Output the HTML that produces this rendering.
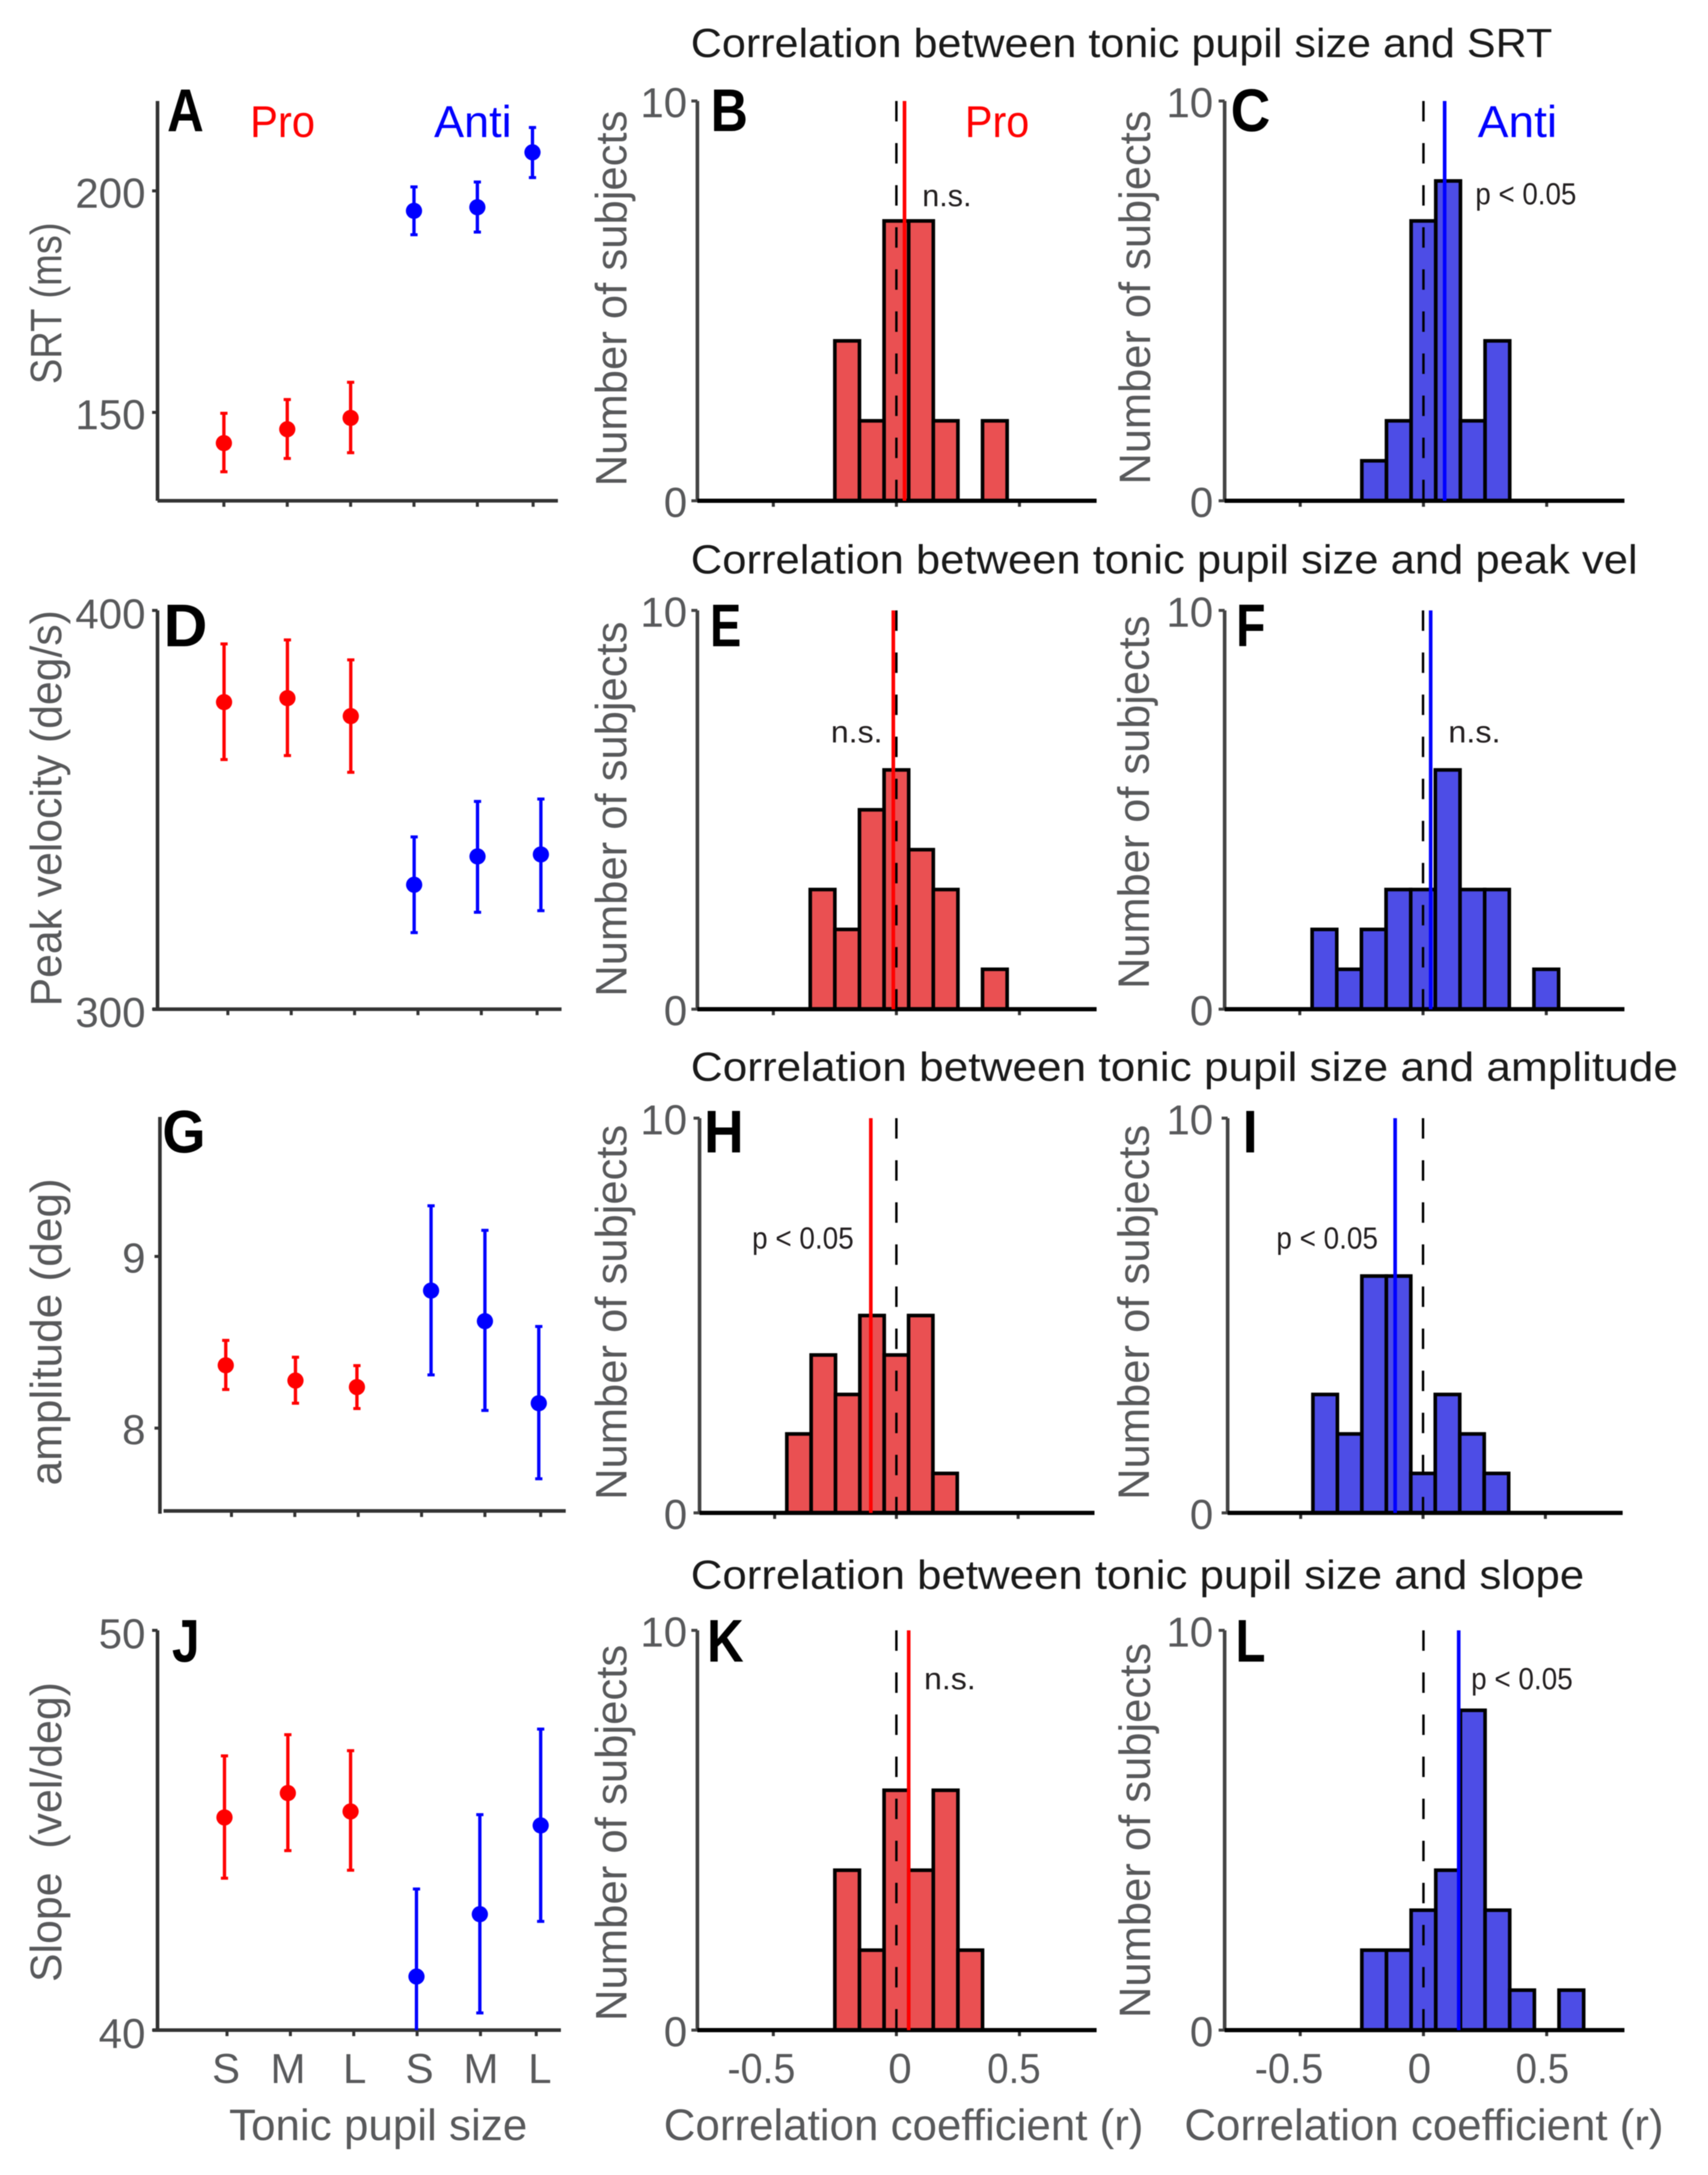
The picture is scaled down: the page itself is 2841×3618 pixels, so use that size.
<!DOCTYPE html>
<html lang="en">
<head>
<meta charset="utf-8">
<title>Tonic pupil size correlations</title>
<style>
html,body{margin:0;padding:0;background:#fff;}
svg{display:block;filter:blur(0.8px);font-family:"Liberation Sans",Arial,sans-serif;}
.title{font-size:68px;fill:#1a1a1a;}
.letter{font-size:100px;font-weight:700;fill:#000;}
.ax{font-size:73px;fill:#58595b;}
.tk{font-size:70px;fill:#58595b;}
.note{font-size:51px;fill:#231f20;}
.cond{font-size:74px;}
</style>
</head>
<body>
<svg id="figure" xmlns="http://www.w3.org/2000/svg" width="2841" height="3618" viewBox="0 0 2841 3618">
<rect width="2841" height="3618" fill="#fff"/>

<text class="title" x="1149" y="95" textLength="1433" lengthAdjust="spacingAndGlyphs">Correlation between tonic pupil size and SRT</text>
<text class="title" x="1149" y="954" textLength="1575" lengthAdjust="spacingAndGlyphs">Correlation between tonic pupil size and peak vel</text>
<text class="title" x="1149" y="1798" textLength="1642" lengthAdjust="spacingAndGlyphs">Correlation between tonic pupil size and amplitude</text>
<text class="title" x="1149" y="2643" textLength="1486" lengthAdjust="spacingAndGlyphs">Correlation between tonic pupil size and slope</text>

<g id="marks"></g>

<text class="letter" x="278" y="218" textLength="61" lengthAdjust="spacingAndGlyphs">A</text>
<text class="letter" x="1182" y="218" textLength="62" lengthAdjust="spacingAndGlyphs">B</text>
<text class="letter" x="2047" y="218" textLength="66" lengthAdjust="spacingAndGlyphs">C</text>
<text class="letter" x="272" y="1075" textLength="73" lengthAdjust="spacingAndGlyphs">D</text>
<text class="letter" x="1181" y="1075" textLength="52" lengthAdjust="spacingAndGlyphs">E</text>
<text class="letter" x="2056" y="1075" textLength="49" lengthAdjust="spacingAndGlyphs">F</text>
<text class="letter" x="270" y="1917" textLength="72" lengthAdjust="spacingAndGlyphs">G</text>
<text class="letter" x="1171" y="1917" textLength="66" lengthAdjust="spacingAndGlyphs">H</text>
<text class="letter" x="2067" y="1917" textLength="25" lengthAdjust="spacingAndGlyphs">I</text>
<text class="letter" x="286" y="2764" textLength="46" lengthAdjust="spacingAndGlyphs">J</text>
<text class="letter" x="1176" y="2764" textLength="61" lengthAdjust="spacingAndGlyphs">K</text>
<text class="letter" x="2055" y="2764" textLength="50" lengthAdjust="spacingAndGlyphs">L</text>

<text class="cond" x="416" y="228" fill="#f00" textLength="108" lengthAdjust="spacingAndGlyphs">Pro</text>
<text class="cond" x="722" y="228" fill="#00f" textLength="129" lengthAdjust="spacingAndGlyphs">Anti</text>
<text class="cond" x="1605" y="228" fill="#f00" textLength="107" lengthAdjust="spacingAndGlyphs">Pro</text>
<text class="cond" x="2458" y="228" fill="#00f" textLength="132" lengthAdjust="spacingAndGlyphs">Anti</text>

<text class="note" x="1534" y="343" textLength="82" lengthAdjust="spacingAndGlyphs">n.s.</text>
<text class="note" x="2454" y="340" textLength="168" lengthAdjust="spacingAndGlyphs">p &lt; 0.05</text>
<text class="note" x="1382" y="1235" textLength="86" lengthAdjust="spacingAndGlyphs">n.s.</text>
<text class="note" x="2409" y="1235" textLength="87" lengthAdjust="spacingAndGlyphs">n.s.</text>
<text class="note" x="1251" y="2077" textLength="169" lengthAdjust="spacingAndGlyphs">p &lt; 0.05</text>
<text class="note" x="2123" y="2077" textLength="169" lengthAdjust="spacingAndGlyphs">p &lt; 0.05</text>
<text class="note" x="1537" y="2810" textLength="86" lengthAdjust="spacingAndGlyphs">n.s.</text>
<text class="note" x="2447" y="2810" textLength="169" lengthAdjust="spacingAndGlyphs">p &lt; 0.05</text>

<text class="ax" transform="translate(102 639) rotate(-90)" textLength="269" lengthAdjust="spacingAndGlyphs">SRT (ms)</text>
<text class="ax" transform="translate(102 1674) rotate(-90)" textLength="659" lengthAdjust="spacingAndGlyphs">Peak velocity (deg/s)</text>
<text class="ax" transform="translate(102 2471) rotate(-90)" textLength="511" lengthAdjust="spacingAndGlyphs">amplitude (deg)</text>
<text class="ax" transform="translate(102 3297) rotate(-90)" textLength="499" lengthAdjust="spacingAndGlyphs" xml:space="preserve">Slope  (vel/deg)</text>

<text class="ax" transform="translate(1042 809) rotate(-90)" textLength="625" lengthAdjust="spacingAndGlyphs">Number of subjects</text>
<text class="ax" transform="translate(1913 806) rotate(-90)" textLength="622" lengthAdjust="spacingAndGlyphs">Number of subjects</text>
<text class="ax" transform="translate(1042 1658) rotate(-90)" textLength="624" lengthAdjust="spacingAndGlyphs">Number of subjects</text>
<text class="ax" transform="translate(1911 1645) rotate(-90)" textLength="621" lengthAdjust="spacingAndGlyphs">Number of subjects</text>
<text class="ax" transform="translate(1042 2495) rotate(-90)" textLength="624" lengthAdjust="spacingAndGlyphs">Number of subjects</text>
<text class="ax" transform="translate(1911 2495) rotate(-90)" textLength="624" lengthAdjust="spacingAndGlyphs">Number of subjects</text>
<text class="ax" transform="translate(1042 3362) rotate(-90)" textLength="626" lengthAdjust="spacingAndGlyphs">Number of subjects</text>
<text class="ax" transform="translate(1913 3357) rotate(-90)" textLength="624" lengthAdjust="spacingAndGlyphs">Number of subjects</text>

<text class="tk" x="376" y="3465" text-anchor="middle">S</text>
<text class="tk" x="479" y="3465" text-anchor="middle">M</text>
<text class="tk" x="590" y="3465" text-anchor="middle">L</text>
<text class="tk" x="698" y="3465" text-anchor="middle">S</text>
<text class="tk" x="800" y="3465" text-anchor="middle">M</text>
<text class="tk" x="898" y="3465" text-anchor="middle">L</text>
<text class="tk" x="1210" y="3465" textLength="113" lengthAdjust="spacingAndGlyphs">-0.5</text>
<text class="tk" x="1497" y="3465" text-anchor="middle">0</text>
<text class="tk" x="1642" y="3465" textLength="89" lengthAdjust="spacingAndGlyphs">0.5</text>
<text class="tk" x="2087" y="3465" textLength="114" lengthAdjust="spacingAndGlyphs">-0.5</text>
<text class="tk" x="2361" y="3465" text-anchor="middle">0</text>
<text class="tk" x="2521" y="3465" textLength="89" lengthAdjust="spacingAndGlyphs">0.5</text>

<text class="ax" x="381" y="3560" textLength="496" lengthAdjust="spacingAndGlyphs">Tonic pupil size</text>
<text class="ax" x="1104" y="3560" textLength="798" lengthAdjust="spacingAndGlyphs">Correlation coefficient (r)</text>
<text class="ax" x="1970" y="3560" textLength="797" lengthAdjust="spacingAndGlyphs">Correlation coefficient (r)</text>
</svg>

<script>
// ---- Scatter data (value, upper and lower error limit per condition) ----
const conditionPositionsA = [1, 2, 3, 4, 5, 5.87];
const srtMeans = [143.07, 146.2, 148.75, 195.5, 196.3, 208.7];
const srtHigh = [149.8, 152.9, 156.8, 200.9, 202, 214.3];
const srtLow = [136.6, 139.6, 140.9, 190.1, 190.7, 203];
const srtTicks = [150, 200];

const conditionPositionsD = [0.94, 1.94, 2.94, 3.94, 4.94, 5.94];
const velMeans = [377, 378, 373.5, 331.2, 338.3, 338.8];
const velHigh = [391.6, 392.6, 387.6, 343.2, 352.1, 352.7];
const velLow = [362.6, 363.6, 359.4, 319.2, 324.3, 324.7];
const velTicks = [300, 400];

const conditionPositionsG = [0.91, 2.01, 2.98, 4.15, 5, 5.85];
const ampMeans = [8.366, 8.277, 8.239, 8.801, 8.623, 8.145];
const ampHigh = [8.511, 8.413, 8.364, 9.295, 9.152, 8.592];
const ampLow = [8.225, 8.145, 8.114, 8.31, 8.103, 7.705];
const ampTicks = [8, 9];

const conditionPositionsJ = [0.96, 1.96, 2.95, 3.99, 4.99, 5.95];
const slopeMeans = [45.32, 45.93, 45.47, 41.34, 42.9, 45.12];
const slopeHigh = [46.86, 47.39, 46.99, 43.53, 45.39, 47.53];
const slopeLow = [43.8, 44.49, 44, 39.15, 40.43, 42.72];
const slopeTicks = [40, 50];

const conditionTicks = [1, 2, 3, 4, 5, 5.88];
const conditionColors = ['pro', 'pro', 'pro', 'anti', 'anti', 'anti'];

// ---- Histogram data (first bin left edge, counts, mean r) ----
const binWidth = 0.1;
const histTicksX = [-0.5, 0, 0.5];
const histTicksY = [0, 10];

const countsB = [4, 2, 7, 7, 2, 0, 2];
const startB = -0.25;
const meanB = 0.033;
const countsC = [1, 2, 7, 8, 2, 4];
const startC = -0.25;
const meanC = 0.086;
const countsE = [3, 2, 5, 6, 4, 3, 0, 1];
const startE = -0.35;
const meanE = -0.0125;
const countsF = [2, 1, 2, 3, 3, 6, 3, 3, 0, 1];
const startF = -0.45;
const meanF = 0.031;
const countsH = [2, 4, 3, 5, 4, 5, 1];
const startH = -0.45;
const meanH = -0.105;
const countsI = [3, 2, 6, 6, 1, 3, 2, 1];
const startI = -0.45;
const meanI = -0.114;
const countsK = [4, 2, 6, 4, 6, 2];
const startK = -0.25;
const meanK = 0.05;
const countsL = [2, 2, 3, 4, 8, 3, 1, 0, 1];
const startL = -0.25;
const meanL = 0.143;

const NS = 'http://www.w3.org/2000/svg';
const root = document.getElementById('marks');
const COLORS = {pro: '#ff0000', anti: '#0000ff'};
const FILLS = {pro: '#ea5052', anti: '#4d4de6'};

function make(tag, attrs, parent) {
  const el = document.createElementNS(NS, tag);
  for (const k in attrs) el.setAttribute(k, attrs[k]);
  parent.appendChild(el);
  return el;
}
function line(x1, y1, x2, y2, stroke, width, parent, name) {
  const el = make('line', {x1: x1, y1: y1, x2: x2, y2: y2, stroke: stroke, 'stroke-width': width}, parent);
  
  
  return el;
}
function linearScale(v0, p0, v1, p1) {
  return v => p0 + (v - v0) * (p1 - p0) / (v1 - v0);
}
function yTickLabel(text, x, y, parent) {
  const el = make('text', {x: x, y: y, 'text-anchor': 'end', class: 'tk'}, parent);
  
  
  el.textContent = text;
}

function drawScatter(p) {
  const g = make('g', {}, root);
  
  
  const y = linearScale(p.v0, p.p0, p.v1, p.p1);
  const x = linearScale(1, p.x1, 2, p.x1 + 105.4);
  line(p.axisX, p.top, p.axisX, p.bottom, '#333', 6, g, 'y-axis-line');
  line(p.xStart, p.axisY, p.xEnd, p.axisY, '#333', 6, g, 'x-axis-line');
  conditionTicks.forEach(t => {
    line(x(t), p.axisY, x(t), p.axisY + 10, '#333', 5, g, 'x-axis-tick');
  });
  p.ticks.forEach(t => {
    line(p.axisX - 9, y(t), p.axisX, y(t), '#333', 5, g, 'y-axis-tick');
    yTickLabel(String(t), 242, y(t) + p.labelDy, g);
  });
  p.means.forEach((m, i) => {
    const c = COLORS[conditionColors[i]];
    const cx = x(p.pos[i]);
    const hi = y(p.high[i]);
    const lo = Math.min(y(p.low[i]), p.axisY);
    line(cx, hi, cx, lo, c, 5.5, g, 'error-bar');
    line(cx - 6, hi, cx + 6, hi, c, 5, g, 'error-cap-upper');
    if (lo < p.axisY) line(cx - 6, lo, cx + 6, lo, c, 5, g, 'error-cap-lower');
    const dot = make('circle', {cx: cx, cy: y(m), r: 13.5, fill: c}, g);
    
    
  });
}

function drawHist(p) {
  const g = make('g', {}, root);
  
  
  const y = linearScale(0, p.bottom, 10, p.top);
  const x = linearScale(0, p.zero, 0.5, p.zero + p.half);
  line(p.axisX, p.top, p.axisX, p.bottom, '#444', 6, g, 'y-axis-line');
  histTicksY.forEach(t => {
    line(p.axisX - 10, y(t), p.axisX, y(t), '#444', 5, g, 'y-axis-tick');
    yTickLabel(String(t), p.labelX, y(t) + 27, g);
  });
  histTicksX.forEach(t => {
    line(x(t), p.bottom, x(t), p.bottom + 10, '#333', 5, g, 'x-axis-tick');
  });
  p.counts.forEach((c, i) => {
    if (c === 0) return;
    const left = x(p.start + i * binWidth);
    const right = x(p.start + (i + 1) * binWidth);
    const bar = make('rect', {x: left, y: y(c), width: right - left, height: y(0) - y(c), fill: FILLS[p.kind], stroke: '#000', 'stroke-width': 6}, g);
    
    
  });
  line(p.axisX, p.bottom, p.end, p.bottom, '#000', 7, g, 'x-axis-line');
  const zero = line(x(0), p.top, x(0), p.bottom, '#000', 4, g, 'zero-reference-line');
  zero.setAttribute('stroke-dasharray', '34 36');
  line(x(p.mean), p.top, x(p.mean), p.bottom, COLORS[p.kind], 6, g, 'mean-correlation-line');
}

drawScatter({id: 'a', pos: conditionPositionsA, means: srtMeans, high: srtHigh, low: srtLow, ticks: srtTicks,
  v0: 150, p0: 686, v1: 200, p1: 317.5, x1: 372.4, axisX: 262, top: 168, bottom: 833, axisY: 833, xStart: 262, xEnd: 928, labelDy: 28});
drawScatter({id: 'd', pos: conditionPositionsD, means: velMeans, high: velHigh, low: velLow, ticks: velTicks,
  v0: 300, p0: 1678.7, v1: 400, p1: 1015.4, x1: 379, axisX: 262, top: 1015.4, bottom: 1678.7, axisY: 1678.7, xStart: 254, xEnd: 934, labelDy: 30});
drawScatter({id: 'g', pos: conditionPositionsG, means: ampMeans, high: ampHigh, low: ampLow, ticks: ampTicks,
  v0: 8, p0: 2375.6, v1: 9, p1: 2090, x1: 385, axisX: 266, top: 1858, bottom: 2518, axisY: 2513.4, xStart: 272, xEnd: 941, labelDy: 27});
drawScatter({id: 'j', pos: conditionPositionsJ, means: slopeMeans, high: slopeHigh, low: slopeLow, ticks: slopeTicks,
  v0: 40, p0: 3377, v1: 50, p1: 2712, x1: 377.6, axisX: 262, top: 2712, bottom: 3377, axisY: 3377, xStart: 254, xEnd: 933, labelDy: 30});

drawHist({id: 'b', kind: 'pro', counts: countsB, start: startB, mean: meanB, axisX: 1160, end: 1824, zero: 1491, half: 204.7, top: 168, bottom: 833, labelX: 1143});
drawHist({id: 'c', kind: 'anti', counts: countsC, start: startC, mean: meanC, axisX: 2037, end: 2702, zero: 2367.7, half: 205, top: 168, bottom: 833, labelX: 2018});
drawHist({id: 'e', kind: 'pro', counts: countsE, start: startE, mean: meanE, axisX: 1160, end: 1824, zero: 1491, half: 204.7, top: 1015.4, bottom: 1678.7, labelX: 1143});
drawHist({id: 'f', kind: 'anti', counts: countsF, start: startF, mean: meanF, axisX: 2037, end: 2702, zero: 2367, half: 205, top: 1015.4, bottom: 1678.7, labelX: 2018});
drawHist({id: 'h', kind: 'pro', counts: countsH, start: startH, mean: meanH, axisX: 1163.6, end: 1820.5, zero: 1491, half: 202.5, top: 1860, bottom: 2516.6, labelX: 1143});
drawHist({id: 'i', kind: 'anti', counts: countsI, start: startI, mean: meanI, axisX: 2042, end: 2699, zero: 2367, half: 203.5, top: 1860, bottom: 2516.6, labelX: 2018});
drawHist({id: 'k', kind: 'pro', counts: countsK, start: startK, mean: meanK, axisX: 1160, end: 1824, zero: 1491, half: 204.7, top: 2712, bottom: 3377, labelX: 1143});
drawHist({id: 'l', kind: 'anti', counts: countsL, start: startL, mean: meanL, axisX: 2037, end: 2702, zero: 2367.7, half: 205, top: 2712, bottom: 3377, labelX: 2018});
</script>
</body>
</html>
